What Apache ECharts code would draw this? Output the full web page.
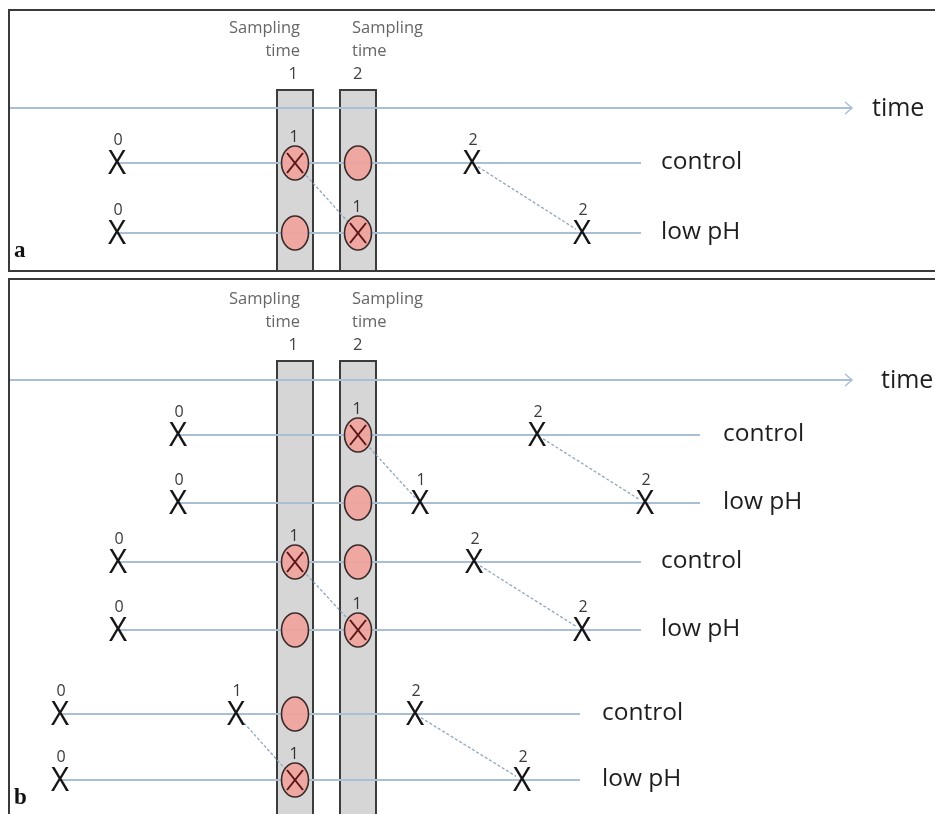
<!DOCTYPE html>
<html><head><meta charset="utf-8">
<script src="https://cdn.jsdelivr.net/npm/echarts@6/dist/echarts.min.js"></script>
<style>html,body{margin:0;padding:0;background:#fff}#c{width:935px;height:814px}</style>
</head><body><div id="c"></div>
<script>
// ---- Panels ----
const panelLetter = ['a', 'b'];
const panelTop = [10, 279];
const panelBottom = [271, 830];
const timeAxisY = [108, 380];
const columnTop = [90, 361];
const timeLabelX = [872, 881];

// ---- Sampling times (time values on the horizontal axis) ----
const samplingLabel = ['1', '2'];
const samplingTime = [295, 358];
const columnPanel = [0, 0, 1, 1];
const columnSampling = [0, 1, 0, 1];

// ---- Rows (tanks) ----
const rowY = [163, 233, 435, 503, 562, 630, 714, 780];
const rowName = ['control', 'low pH', 'control', 'low pH', 'control', 'low pH', 'control', 'low pH'];
const rowStart = [117, 117, 178, 178, 118, 118, 60, 60];
const rowEnd = [641, 641, 700, 700, 641, 641, 580, 580];
const rowLabelX = [661, 661, 723, 723, 661, 661, 602, 602];

// ---- Unsampled events (X marks) ----
const markRow = [0, 0, 1, 1, 2, 2, 3, 3, 3, 4, 4, 5, 5, 6, 6, 6, 7, 7];
const markTime = [117, 472, 117, 582, 178, 537, 178, 420, 645, 118, 474, 118, 582, 60, 236, 415, 60, 522];
const markLabel = ['0', '2', '0', '2', '0', '2', '0', '1', '2', '0', '2', '0', '2', '0', '1', '2', '0', '2'];

// ---- Samples taken at sampling times ----
const sampleRow = [0, 0, 1, 1, 2, 3, 4, 4, 5, 5, 6, 7];
const sampleIdx = [0, 1, 0, 1, 1, 1, 0, 1, 0, 1, 0, 0];
const sampleCrossed = [1, 0, 0, 1, 1, 0, 1, 0, 0, 1, 0, 1];

// ---- Dashed links between matching events ----
const linkFromRow = [0, 0, 2, 2, 4, 4, 6, 6];
const linkFromTime = [295, 472, 358, 537, 295, 474, 236, 415];
const linkToRow = [1, 1, 3, 3, 5, 5, 7, 7];
const linkToTime = [358, 582, 420, 645, 358, 582, 295, 522];

const FONT = "'Open Sans', 'Noto Sans', sans-serif";
const BLUE = '#a9bfd6';

const chart = echarts.init(document.getElementById('c'), null, { renderer: 'canvas' });

function idx(arr) { return arr.map((_, i) => [i, 0]); }

const option = {
  animation: false,
  backgroundColor: '#ffffff',
  grid: { left: 0, right: 0, top: 0, bottom: 0 },
  xAxis: { type: 'value', min: 0, max: 935, show: false },
  yAxis: { type: 'value', min: 0, max: 814, inverse: true, show: false },
  series: [
    // sampling columns + their titles
    {
      type: 'custom', clip: false, z: 1, data: idx(columnPanel),
      renderItem(params, api) {
        const i = params.dataIndex, p = columnPanel[i], s = columnSampling[i];
        const t = samplingTime[s];
        const a = api.coord([t - 18, columnTop[p]]);
        const b = api.coord([t + 18, panelBottom[p]]);
        const tx = api.coord([s === 0 ? t + 5 : t - 6, 0])[0];
        const align = s === 0 ? 'right' : 'left';
        const ty = a[1];
        const ts = { fill: '#666', fontFamily: FONT, fontSize: 16.5, align: align, verticalAlign: 'middle' };
        return { type: 'group', children: [
          { type: 'rect', shape: { x: a[0], y: a[1], width: b[0] - a[0], height: b[1] - a[1] },
            style: { fill: '#d6d6d6', stroke: '#3c3c3c', lineWidth: 2 } },
          { type: 'text', x: tx, y: ty - 62, style: Object.assign({ text: 'Sampling' }, ts) },
          { type: 'text', x: tx, y: ty - 39, style: Object.assign({ text: 'time' }, ts) },
          { type: 'text', x: tx + (s === 0 ? -2 : 1), y: ty - 16, style: Object.assign({ text: samplingLabel[s] }, ts, { fill: '#444' }) }
        ] };
      }
    },
    // time arrows
    {
      type: 'custom', clip: false, z: 2, data: idx(timeAxisY),
      renderItem(params, api) {
        const p = params.dataIndex;
        const s = api.coord([9, timeAxisY[p]]);
        const e = api.coord([852, timeAxisY[p]]);
        const l = api.coord([timeLabelX[p], timeAxisY[p]]);
        return { type: 'group', children: [
          { type: 'line', shape: { x1: s[0], y1: s[1], x2: e[0], y2: e[1] }, style: { stroke: BLUE, lineWidth: 2 } },
          { type: 'polyline', shape: { points: [[e[0] - 7, e[1] - 6], [e[0], e[1]], [e[0] - 7, e[1] + 6]] },
            style: { stroke: BLUE, lineWidth: 1.5, fill: null } },
          { type: 'text', x: l[0], y: l[1] + 1, style: { text: 'time', fill: '#1e1e1e', fontFamily: FONT, fontSize: 25, align: 'left', verticalAlign: 'middle' } }
        ] };
      }
    },
    // rows
    {
      type: 'custom', clip: false, z: 3, data: idx(rowY),
      renderItem(params, api) {
        const i = params.dataIndex;
        const s = api.coord([rowStart[i], rowY[i]]);
        const e = api.coord([rowEnd[i], rowY[i]]);
        const l = api.coord([rowLabelX[i], rowY[i]]);
        return { type: 'group', children: [
          { type: 'line', shape: { x1: s[0], y1: s[1], x2: e[0], y2: e[1] }, style: { stroke: BLUE, lineWidth: 2 } },
          { type: 'text', x: l[0], y: l[1] - 1, style: { text: rowName[i], fill: '#1e1e1e', fontFamily: FONT, fontSize: 24.5, align: 'left', verticalAlign: 'middle' } }
        ] };
      }
    },
    // dashed links
    {
      type: 'custom', clip: false, z: 4, data: idx(linkFromRow),
      renderItem(params, api) {
        const i = params.dataIndex;
        const a = api.coord([linkFromTime[i], rowY[linkFromRow[i]]]);
        const b = api.coord([linkToTime[i], rowY[linkToRow[i]]]);
        const dx = b[0] - a[0], dy = b[1] - a[1], L = Math.hypot(dx, dy);
        const k = 7 / L;
        return { type: 'line', shape: { x1: a[0] + dx * k, y1: a[1] + dy * k, x2: b[0] - dx * k, y2: b[1] - dy * k },
          style: { stroke: '#8ea7c2', lineWidth: 1.3, lineDash: [3, 2] } };
      }
    },
    // samples (ellipses)
    {
      type: 'custom', clip: false, z: 5, data: idx(sampleRow),
      renderItem(params, api) {
        const i = params.dataIndex;
        const c = api.coord([samplingTime[sampleIdx[i]], rowY[sampleRow[i]]]);
        const ch = [
          { type: 'ellipse', shape: { cx: c[0], cy: c[1], rx: 13.5, ry: 17 },
            style: { fill: 'rgba(242,160,154,0.88)', stroke: '#3a2b2b', lineWidth: 1.6 } }
        ];
        if (sampleCrossed[i]) {
          ch.push({ type: 'line', shape: { x1: c[0] - 8, y1: c[1] - 10, x2: c[0] + 8, y2: c[1] + 10 }, style: { stroke: '#5a1616', lineWidth: 2 } });
          ch.push({ type: 'line', shape: { x1: c[0] + 8, y1: c[1] - 10, x2: c[0] - 8, y2: c[1] + 10 }, style: { stroke: '#5a1616', lineWidth: 2 } });
          ch.push({ type: 'text', x: c[0] - 1, y: c[1] - 26, style: { text: '1', fill: '#333', fontFamily: FONT, fontSize: 16, align: 'center', verticalAlign: 'middle' } });
        }
        return { type: 'group', children: ch };
      }
    },
    // X marks
    {
      type: 'custom', clip: false, z: 6, data: idx(markRow),
      renderItem(params, api) {
        const i = params.dataIndex;
        const c = api.coord([markTime[i], rowY[markRow[i]]]);
        return { type: 'group', children: [
          { type: 'text', x: c[0], y: c[1] + 2, scaleX: 0.95,
            style: { text: 'X', fill: '#151515', fontFamily: FONT, fontSize: 33, align: 'center', verticalAlign: 'middle' } },
          { type: 'text', x: c[0] + 1, y: c[1] - 23,
            style: { text: markLabel[i], fill: '#3a3a3a', fontFamily: FONT, fontSize: 16, align: 'center', verticalAlign: 'middle' } }
        ] };
      }
    },
    // panel frames + letters
    {
      type: 'custom', clip: false, z: 7, data: idx(panelLetter),
      renderItem(params, api) {
        const p = params.dataIndex;
        const a = api.coord([9, panelTop[p]]);
        const b = api.coord([950, panelBottom[p]]);
        const l = api.coord([14, Math.min(panelBottom[p], 814) - (p === 0 ? 8 : 4)]);
        return { type: 'group', children: [
          { type: 'rect', shape: { x: a[0], y: a[1], width: b[0] - a[0], height: b[1] - a[1] },
            style: { fill: null, stroke: '#3a3a3a', lineWidth: 2 } },
          { type: 'text', x: l[0], y: l[1], style: { text: panelLetter[p], fill: '#111', fontFamily: "'Liberation Serif', 'DejaVu Serif', serif", fontWeight: 'bold', fontSize: 23, align: 'left', verticalAlign: 'bottom' } }
        ] };
      }
    }
  ]
};
chart.setOption(option);
</script>
</body></html>
